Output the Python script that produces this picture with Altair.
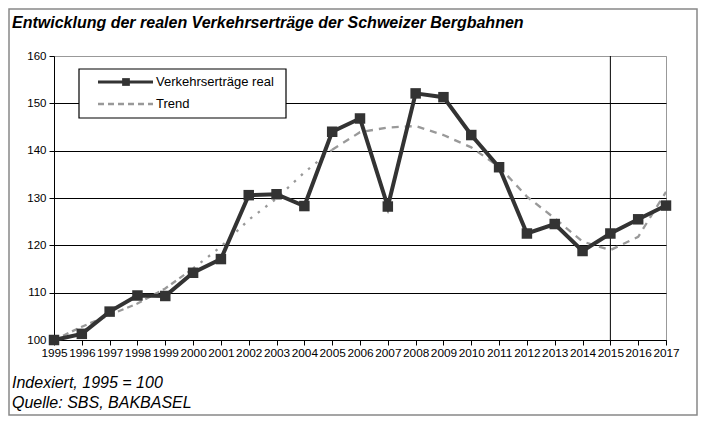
import altair as alt
import pandas as pd

years = list(range(1995, 2018))
real = [100.0, 101.3, 106.0, 109.4, 109.3, 114.2, 117.1, 130.6, 130.8, 128.3,
        144.0, 146.8, 128.2, 152.1, 151.3, 143.3, 136.5, 122.5, 124.5, 118.8,
        122.5, 125.5, 128.4]
trend = [100.0, 102.8, 105.3, 107.7, 110.9, 115.1, 119.7, 125.4, 129.9, 135.4,
         140.2, 143.9, 144.9, 145.2, 143.3, 140.7, 136.6, 130.3, 125.7, 120.8,
         119.0, 121.8, 131.3]
series_names = ["Verkehrserträge real", "Trend"]
title_text = "Entwicklung der realen Verkehrserträge der Schweizer Bergbahnen"
notes = ["Indexiert, 1995 = 100", "Quelle: SBS, BAKBASEL"]
marker_year = [2015]
y_ticks = [100, 110, 120, 130, 140, 150, 160]

W, H = 612, 284
FONT = "Liberation Sans"

df = pd.DataFrame({"Jahr": years, "real": real, "trend": trend})
df_v = pd.DataFrame({"Jahr": marker_year})
one = pd.DataFrame({"a": [0]})

xscale = alt.Scale(domain=[1995, 2017], nice=False, zero=False)
yscale = alt.Scale(domain=[100, 160], nice=False, zero=False)
xaxis = alt.Axis(values=years, format="d", title=None, grid=False,
                 labelOverlap=False, labelFlush=False, tickSize=5,
                 tickColor="black", domainColor="black", domainWidth=1,
                 labelFont=FONT, labelFontSize=11.8, labelColor="black",
                 labelPadding=2, labelSeparation=0)
yaxis = alt.Axis(values=y_ticks, title=None, grid=True,
                 gridColor={"condition": {"test": "datum.value === 160", "value": "#999999"}, "value": "black"},
                 gridWidth=1, tickSize=5, tickColor="black",
                 domainColor="black", labelFont=FONT, labelFontSize=11.5,
                 labelColor="black", labelPadding=3)

base = alt.Chart(df)
X = alt.X("Jahr:Q", scale=xscale, axis=xaxis)

frame = alt.Chart(one).mark_rect(
    fill="white", fillOpacity=0, stroke="#888888", strokeWidth=1.5).encode(
    x=alt.value(-45), x2=alt.value(643), y=alt.value(-47), y2=alt.value(359))

vline = alt.Chart(df_v).mark_rule(color="black", strokeWidth=1).encode(x=X)

Yt = alt.Y("trend:Q", scale=yscale, axis=yaxis)
trend_a = base.transform_filter("datum.Jahr <= 2000").mark_line(
    color="#999999", strokeWidth=2.3, strokeDash=[6, 4]).encode(x=X, y=Yt)
trend_b = base.transform_filter("datum.Jahr >= 2000 && datum.Jahr <= 2005").mark_line(
    color="#999999", strokeWidth=2.3, strokeDash=[2.5, 7]).encode(x=X, y=Yt)
trend_c = base.transform_filter("datum.Jahr >= 2005").mark_line(
    color="#999999", strokeWidth=2.3, strokeDash=[7, 6]).encode(x=X, y=Yt)

Yr = alt.Y("real:Q", scale=yscale, axis=yaxis)
real_line = base.mark_line(color="#333333", strokeWidth=4).encode(x=X, y=Yr)
real_pts = base.mark_square(color="#333333", size=110, opacity=1).encode(x=X, y=Yr)

# legend
leg_box = alt.Chart(one).mark_rect(
    fill="white", stroke="black", strokeWidth=1.2).encode(
    x=alt.value(25), x2=alt.value(232), y=alt.value(13), y2=alt.value(62))
leg_l1 = alt.Chart(one).mark_rule(color="#333333", strokeWidth=3).encode(
    x=alt.value(44), x2=alt.value(99), y=alt.value(26))
leg_p1 = alt.Chart(one).mark_square(color="#333333", size=60, opacity=1).encode(
    x=alt.value(72), y=alt.value(26))
leg_l2 = alt.Chart(one).mark_rule(color="#999999", strokeWidth=2.5, strokeDash=[6, 4]).encode(
    x=alt.value(44), x2=alt.value(99), y=alt.value(48))
leg_t1 = alt.Chart(pd.DataFrame({"t": [series_names[0]]})).mark_text(
    align="left", baseline="middle", font=FONT, fontSize=13, color="black").encode(
    x=alt.value(102), y=alt.value(26), text="t:N")
leg_t2 = alt.Chart(pd.DataFrame({"t": [series_names[1]]})).mark_text(
    align="left", baseline="middle", font=FONT, fontSize=13, color="black").encode(
    x=alt.value(102), y=alt.value(48), text="t:N")

title_mark = alt.Chart(pd.DataFrame({"t": [title_text]})).mark_text(
    align="left", baseline="alphabetic", font=FONT, fontSize=16, fontStyle="italic",
    fontWeight="bold", color="black").encode(x=alt.value(-42), y=alt.value(-28), text="t:N")
note1 = alt.Chart(pd.DataFrame({"t": [notes[0]]})).mark_text(
    align="left", baseline="alphabetic", font=FONT, fontSize=16, fontStyle="italic",
    color="black").encode(x=alt.value(-42), y=alt.value(332), text="t:N")
note2 = alt.Chart(pd.DataFrame({"t": [notes[1]]})).mark_text(
    align="left", baseline="alphabetic", font=FONT, fontSize=16, fontStyle="italic",
    color="black").encode(x=alt.value(-42), y=alt.value(352), text="t:N")

chart = alt.layer(
    vline, trend_a, trend_b, trend_c, real_line, real_pts,
    leg_box, leg_l1, leg_p1, leg_l2, leg_t1, leg_t2, title_mark, note1, note2, frame
).properties(
    width=W, height=H,
    autosize=alt.AutoSizeParams(type="none"),
    padding={"left": 46, "top": 48, "right": 32, "bottom": 76},
    background="white",
).configure_view(stroke="#999999", strokeWidth=1
).configure_axisX(labelOverlap=False, labelSeparation=0)

chart.save("out.html", embed_options={"renderer": "svg", "actions": False})
